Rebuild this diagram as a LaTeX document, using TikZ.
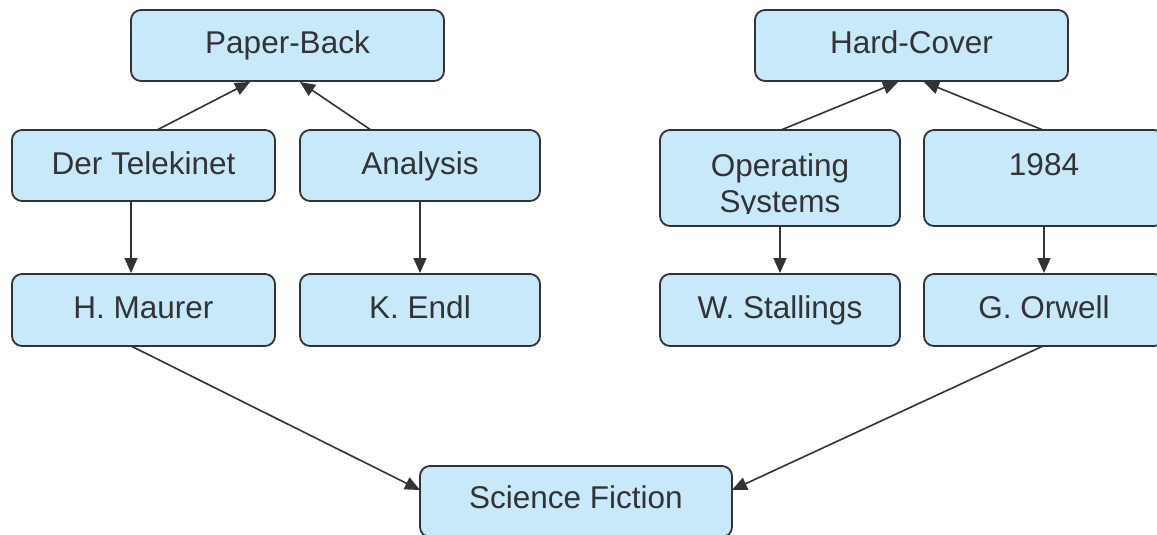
\documentclass[tikz,border=0pt]{standalone}
\usepackage{fontspec}
\setmainfont{Liberation Sans}
\usetikzlibrary{arrows.meta,calc}
\definecolor{boxfill}{HTML}{C7E9F9}
\definecolor{ink}{HTML}{333336}
\begin{document}
\begin{tikzpicture}[x=1pt,y=-1pt,
  bx/.style={draw=ink,fill=boxfill,line width=1.8pt,rounded corners=10pt,inner sep=0pt,outer sep=0pt},
  lbl/.style={anchor=base,inner sep=0pt,text=ink,font=\fontsize{31.5}{35}\selectfont},
  conn/.style={draw=ink,line width=1.6pt,-{Triangle[length=15pt,width=13pt]}}]
\useasboundingbox (0,0) rectangle (1157,535);
\fill[white] (0,0) rectangle (1157,535);
% boxes
\node[bx,minimum width=313pt,minimum height=71pt] (pb) at (287.5,45.5) {};
\node[bx,minimum width=313pt,minimum height=71pt] (hc) at (911.5,45.5) {};
\node[bx,minimum width=263pt,minimum height=71pt] (tel) at (143.5,165.5) {};
\node[bx,minimum width=240pt,minimum height=71pt] (an) at (420,165.5) {};
\node[bx,minimum width=240pt,minimum height=96pt] (os) at (780,178) {};
\node[bx,minimum width=240pt,minimum height=96pt] (nn) at (1044,178) {};
\node[bx,minimum width=263pt,minimum height=72pt] (hm) at (143.5,310) {};
\node[bx,minimum width=240pt,minimum height=72pt] (ke) at (420,310) {};
\node[bx,minimum width=240pt,minimum height=72pt] (ws) at (780,310) {};
\node[bx,minimum width=240pt,minimum height=72pt] (go) at (1044,310) {};
\node[bx,minimum width=312pt,minimum height=71pt] (sf) at (576,501.5) {};
% labels
\node[lbl] (pbt) at ($(pb.north)+(0,43.5)$) {Paper-Back};
\node[lbl] (hct) at ($(hc.north)+(0,43.5)$) {Hard-Cover};
\node[lbl] (telt) at ($(tel.north)+(0,44)$) {Der Telekinet};
\node[lbl] (ant) at ($(an.north)+(0,44)$) {Analysis};
\node[lbl] (osa) at ($(os.north)+(0,46.5)$) {Operating};
\begin{scope}
\clip (660,130) rectangle (900,213);
\node[lbl] (osb) at ($(os.north)+(0,82)$) {Systems};
\end{scope}
\node[lbl] (nnt) at ($(nn.north)+(0,45)$) {1984};
\node[lbl] (hmt) at ($(hm.north)+(0,44.5)$) {H. Maurer};
\node[lbl] (ket) at ($(ke.north)+(0,44.5)$) {K. Endl};
\node[lbl] (wst) at ($(ws.north)+(0,44.5)$) {W. Stallings};
\node[lbl] (got) at ($(go.north)+(0,44.5)$) {G. Orwell};
\node[lbl] (sft) at ($(sf.north)+(0,42)$) {Science Fiction};
% connectors
\draw[conn] ($(tel.north)+(13.5,0)$) -- ($(pb.south)+(-37.5,1)$);
\draw[conn] ($(an.north)+(-49,0)$) -- ($(pb.south)+(12.5,1)$);
\draw[conn] ($(os.north)+(1,0)$) -- ($(hc.south)+(-13.5,1)$);
\draw[conn] ($(nn.north)+(-1,0)$) -- ($(hc.south)+(12.5,1)$);
\draw[conn] ($(tel.south)+(-12.5,0)$) -- ($(hm.north)+(-12.5,-1)$);
\draw[conn] (an.south) -- ($(ke.north)+(0,-1)$);
\draw[conn] (os.south) -- ($(ws.north)+(0,-1)$);
\draw[conn] (nn.south) -- ($(go.north)+(0,-1)$);
\draw[conn] ($(hm.south)+(-12.5,0)$) -- ($(sf.west)+(0,-11.5)$);
\draw[conn] ($(go.south)+(-1,0)$) -- ($(sf.east)+(0,-11.5)$);
\end{tikzpicture}
\end{document}
